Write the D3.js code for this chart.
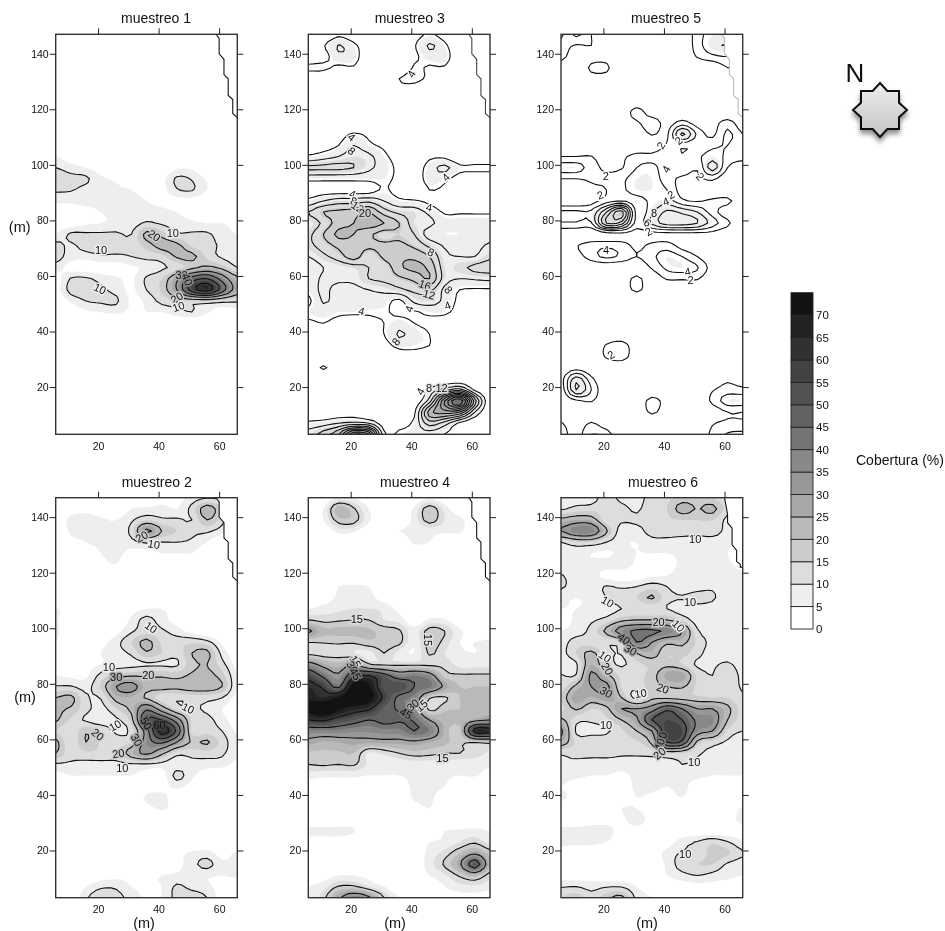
<!DOCTYPE html>
<html><head><meta charset="utf-8">
<script src="https://cdn.jsdelivr.net/npm/d3@7"></script>
<style>html,body{margin:0;padding:0;background:#fff}svg{display:block;filter:blur(0.35px)}text{font-family:"Liberation Sans",Arial,sans-serif;fill:#111}text.cl{opacity:0.999}</style>
</head><body>
<svg id="c" width="945" height="931"></svg>
<script>
// Grid positions of the samples (m)
const gridX = [6,11,16,21,26,31,36,41,46,51,56,61,66];
const gridY = [147,143,139,135,131,127,123,119,115,111,107,103,99,95,91,87,83,79,75,71,67,63,59,55,51,47,43,39,35,31,27,23,19,15,11,7,3];
const _ = [0,0,0,0,0,0,0,0,0,0,0,0,0];

const muestreo1 = [_,_,_,_,_,_,_,_,_,_,_,
[5,2,0,0,0,0,0,0,0,0,0,0,0],
[10,7,5,2,0,0,0,0,4,4,0,0,0],
[14,12,11,6,4,0,0,3,11,9.5,4,0,0],
[11,10.5,8,6,6,5,3,3,9.5,10.5,5,0,0],
[6,6,7,7,6,6,5,4,3,3,0,0,0],
[2,2,3,5,6,6,6,6,5,3,1,0,0],
[2,2,4,5,6,7,11,9,7,6,5,5,3],
[5,11,11,11,11,10,22,18,11,11,11,7,5],
[12,9,13,14,12,12,17,23,22,14,12,9,7],
[13,7,7,9,9,10,12,13,21,22,14,9,7],
[7,3,2,2,2,4,6,9,12,18,22,18,10],
[2,10.5,11,8,6,4,11,15,28,45,50,36,22],
[3,12,13,11,8,4,10,16,30,55,65,45,25],
[0,6,10,11,11,4,6,12,14,14,14,12,11],
[0,1,4,5,6,4,5,5,8,10,6,2,3],
[0,0,0,0,0,0,3,0,0,0,0,0,0],
_,_,_,_,_,_,_,_,_,_,_,_];

const muestreo2 = [
[0,0,0,0,0,0,0,2,3,7,9.5,8,0],
[0,3,4,3,0,5,6,7,5,12,24,14,0],
[2,6,6,5.5,5,9,14,11,11,10,20,12,0],
[0,6,7,7,5.5,12,32,20,15,11,11,7,0],
[0,3,5,6,6.5,8,11,10,10,9,5,0,0],
[0,0,2,5,6.5,3,3,5,5,5,0,0,0],
[0,0,0,3,5,0,0,0,0,0,0,0,0],
_,_,_,
[5.5,2,0,0,0,3,5,5,3,0,0,0,0],
[5.5,2,0,0,0,6,12,7,3,0,0,0,0],
[6,1,0,0,3,9,13,11,7,3,0,0,0],
[5,0,0,3,8,15,22,14,13,14,12,4,0],
[0,0,0,5,8,11,19,15,12,20,22,8,2],
[2,2,3,5,7,8,9,9,9,18,20,12,3],
[5,4,4,12,17,19,19,19,18,21,22,17,5],
[10.5,10.5,8,16,30,34,23,23,22,24,24,20,5],
[20,22,11,10.5,23,24,19,12,11,12,12,10,3],
[21,19,12,8,15,22,38,25,13,11,9,5,2],
[21,14,9,6,9,17,50,50,35,14,12,7,2],
[15,11,19,15,9,12,35,65,48,13,13,10,4],
[22,11,20,14,13,15,35,42,30,19,21,13,6],
[20,12,14,14,14,24,32,22,12,12,13,11,6],
[9,9,8,8,8,9,9,8,7,8,7,7,3],
[3,5,5,5,5,5,3,2,12,6,2,0,0],
[0,0,0,0,0,0,2,3,6,3,0,0,0],
[0,0,0,0,0,0,6,6.5,2,0,0,0,0],
[0,0,0,0,0,0,3,5.5,3,0,0,0,0],
_,_,_,
[0,0,0,0,0,0,0,0,3,6,7,3,6],
[0,0,0,0,0,0,0,0,3,8,12,6,6],
[0,0,0,2,3,3,4,5,6,6,5.5,5,6],
[0,0,5,9,9,5,4,5,11,8,6,3,0],
[0,0,9,14,12,8,4,5,12,14,10,2,0]];

const muestreo3 = [
[0,0,3,1,0,0,0,2,4.5,2,0,0,0],
[0,3.5,8.2,5,1,0,0,3.5,8.5,5,0,0,0],
[0,2,7,6,0,0,0,3,6,6,0,0,0],
[5,5,3,3.5,0,0,0,4.5,3.5,3.5,0,0,0],
[0,0,0,0,0,0,4,5,3,0,0,0,0],
[0,0,0,0,0,0,2,2,0,0,0,0,0],
_,_,_,
[0,0,2,4.5,3,0,0,0,0,0,0,0,0],
[2,2,4,8,5,3,0,0,0,0,0,0,0],
[4.5,6,8,10,9,5,2,0,3,3,0,0,0],
[13,13,13,12,9,6,3,1,6,9,5,5,5],
[5,5,5,5,5,5,3,1,6,5,2,1,1],
[2,2,2,2,2,4.5,2,0,4,3,0,0,0],
[5,8,10,10,11,8,5,4.5,3,1,0,0,0],
[12,16,17,18,20,14,11,10,7,3.5,3.5,3.5,3.5],
[9,13,18,20,22,20,16,10,9,6,6,6,6],
[11,16,21,20,17,14,15,12,6,5,5,6,7],
[11,14,17,18,17,17,17,15,11,7.5,7,7,8.5],
[8,11,14,18,13,17,19,19,16,9,8,8,11],
[5,8,9,10,12,13,19,21,19,10,11,13,14],
[5,9,9,9,12,13,15,17,20,10,8,8.5,9],
[5,9,6,7,8,9,11,13,13,7,4,3.5,3.5],
[3,8.5,6,8,7,6,3,9,10,7,3,2,2],
[5,6,5,5,4.5,4.5,3,3.5,5,5,2,1,0],
[3,4,2,1,3,4,6,4,3,1,0,0,0],
[0,0,0,0,1,4,8.5,6,4,0,0,0,0],
[0,0,0,0,0,2,5.5,5,4,1,0,0,0],
[0,0,0,0,0,0,1,2,1,0,0,0,0],
[1,4.5,1,0,0,0,0,0,0,0,0,0,0],
_,
[0,0,0,0,0,0,0,0,5,10,14,3,0],
[0,0,0,0,0,0,0,1,10,32,44,18,0],
[0,0,1,2,0,0,0,3,22,26,24,8,0],
[5,6,8,9,8,1.5,2,5,14,10,3,0,0],
[10,14,20,36,32,5,5,6,6,4,2,0,0]];

const muestreo4 = [
[0,0,6,5,0,0,0,0,4,0,0,0,0],
[0,5,24,16,5,0,0,6,19,8,0,0,0],
[0,5,18,18,6,0,0,7,18,10,7,0,0],
[0,0,7,6,0,0,5,6,7,6,6,0,0],
[0,0,0,0,0,0,0,6,5,0,0,0,0],
_,_,_,
[0,0,5,6,5,0,0,0,0,0,0,0,0],
[0,2,6,8,7,2,0,0,0,0,0,0,0],
[5,7,9,10,10,9,3,0,0,0,0,0,0],
[15,13,14,15,15,10,8,0,6,6,0,0,5],
[32,22,22,22,21,18,16,7,18,15,6,2,2],
[15.2,15.5,16,16,19,18,17,6,18,13,5,5,6],
[13,12,12,10,8,15,8,5,16,10,6,5,6],
[35,26,22,30,16,13,13,13,13,13,8,8,8],
[55,42,32,55,60,50,38,40,35,18,16,16,16],
[65,58,42,78,72,52,55,45,42,28,20,20,20],
[68,65,72,80,75,58,42,38,16,14,20,22,22],
[75,80,72,66,62,48,44,36,13,19,20,22,24],
[60,62,55,50,45,48,46,44,30,23,22,26,30],
[38,38,38,36,36,38,38,45,40,24,18,65,65],
[27,24,25,27,26,27,27,28,25,22,16,15.5,17],
[19,19,19,20,9,11,15,18,17,15,15,13,9],
[15,16,15,16,9,6,6,7,7,7,6,6,6],
[7,6,6,6,5,5,5,6,6,5.5,5,5.5,3],
[2,2,2,2,0,0,2,6,6,5,2,0,0],
[0,0,0,0,0,0,0,6,6,2,0,0,0],
[0,0,0,0,0,0,0,2,5,0,0,0,0],
[2,2,2,2,0,0,0,0,0,0,0,0,0],
[6,6,6,5.5,0,0,0,0,0,5,6,7,5],
[3,3,3,1,0,0,0,0,5,6,10,14,8],
[0,0,0,0,0,0,0,0,7,12,20,28,18],
[0,0,0,0,0,0,0,0,8,16,28,52,22],
[0,2,5,5,3,0,0,0,5,9,16,22,12],
[5,8,15.5,16,10,5,0,0,0,5,8,9,7],
[6,13,28,38,32,15,5,0,0,2,3,3,2]];

const muestreo5 = [
[1.5,4.5,2,0,0,0,0,0,0,3,5,5,5],
[3,1.8,2,0,0,0,0,0,0,3,5.5,6,5],
[3,0,1,1,0,0,0,0,0,2.2,3.5,4,3],
[0,0,2.4,2.4,0,0,0,0,0,0,0,2,2],
[0,0,1,1,0,0,0,0,0,0,0,0,0],
_,_,
[0,0,0,0,0,3,0.5,0,0,0,0,0,0],
[0,0,0,0,0.5,1.5,3.5,1,3,1,1,3,0.5],
[0,0,0,0,0,0,2.2,1.5,8.5,3.5,1.5,4.5,2],
[0,0,0,0,0,0,0,2.3,2.5,2.2,3.5,4,2.5],
[2,2,2.1,0.5,1.5,2.8,3,3.5,2.2,3.5,5,3.5,3],
[5,5,3,1.5,1.8,4,4.5,3,3.5,2.2,7,2,0],
[2,2,2.3,2.5,3.5,5,5,3,1.5,1.5,2.5,0,0],
[0,0,1.5,2,3.5,5,5,4,1,0,0,0,0],
[0,0,1,3,4,3,4.5,5,2.5,1.8,2.5,2.5,0.5],
[4.5,4.5,4.5,10,15,3,5.5,8.5,7.5,6,3,0.5,0],
[3.8,3.8,3.8,12,11,3,6.5,9,9,8,5,2.5,0],
[0,0,0,0.5,1,1,1,1,1,1,1,0,0],
[0,1.8,3,3.5,3,1.5,2.5,3,1,0,0,0,0],
[0,1,3,4.5,3.5,2,3.5,5,4,2,0,0,0],
[0,0,0,0,0,0.5,2.2,4.5,5,4.2,1,0,0],
[0,0,0,0,0.5,2.5,0.5,2.2,2.2,2.2,0,0,0],
[0,0,0,0,0.5,2.4,0.5,0,0,0,0,0,0],
_,_,_,_,
[0,0,0,2.2,3,0.5,0,0,0,0,0,0,0],
[0,0,0,2.3,3,0.5,0,0,0,0,0,0,0],
[0,1,0,0,0,0,0,0,0,0,0,0,0],
[1,7,2.5,0,0,0,0,0,0,0,0,1.5,0],
[0.5,8,4,0,0,0,0,0,0,0,1.8,3,2.8],
[0,1.5,2.2,0,0,0,2.8,1,0,0,2.5,5,5],
[0,0,0,0,0,0,2.4,0.5,0,0,0.5,2,2],
[2.2,0.5,2.2,0.5,0,0,0,0,0,0,1.8,2.4,2.4],
[3,1,4,3,0,0,0,0,0,0.5,2.5,4.2,4.5]];

const muestreo6 = [
[5,7,7,13,8,7,13,14,17,17,15,9,0],
[9,12,13,14,12,9,14,15,23,19.5,22,12,0],
[22,25,24,12,11,11,11,14,15,15,15,8,0],
[30,38,38,21,7,8,12,12,12,11.5,12,8,0],
[10,14,14,10,6,5,8,8.5,8,8,8,7,0],
[7,7,5,4,6,5,5,5,6,6,6,5,0],
[6,7,7,7,8,4,3,3,6,6,7,6,3],
[10.5,7,7,3,2,2,4,5,7,7,7,7,6],
[11,7,7,10.5,9,10,13,10,7,8,9,7,6],
[6,5,6,10,14,15,21,12,10.5,12,11,6,6],
[5,5,6,7,10,11,11,10,7,8,7,6,6],
[3,6,9,12,18,20,20,20,14,7,6,6,6],
[5,7,12,22,35,42,42,38,30,11,7,7,7],
[7,13,12,11,15,40,30,22,22,14,8,7,7],
[8,15,22,12,10.5,20,24,15,17,12,7,7,7],
[6,9,25,14,9,14,16,18,15,9,9,11,7],
[10.5,10.5,32,22,14,14,17,27,28,14,10,15,8],
[12,22,30,33,14,12,18,20,21,14,12,14,9],
[16,28,24,28,20,8,18,18,17,16,15,15,11],
[13,21,15,18,30,30,35,48,40,30,30,22,13],
[22,12,11,14,20,28,50,55,50,38,36,20,13],
[32,9,8,9,14,20,30,58,55,35,30,14,10],
[25,14,14,14,14,14,22,50,48,18,13,9,6],
[10.5,12,12,12,11,11,12,15,14,11,8,6,5],
[10,8,7,7,7,7,7,8,10,9,7,6,5],
[7,6,5,5,4,6,6,6,6,6,5,5,5],
[5,3,2,1,2,6,6,5,6,3,2,1,1],
[6,3,1,1,3,5,4,3,5,2,1,1,1],
[2,1,1,2,5,5,3,1,1,1,1,1,6],
[1,1,2,3,4,7,3,2,1,1,1,2,7],
[7,7,8,7,3,3,2,1,1,1,1,1,2],
[6,6,6,5,2,1,1,2,8,10.5,14,10.5,6],
[3,2,2,1,1,1,1,7,10.5,10.5,17,16,10.5],
[0,0,0,0,0,0,1,6,13,15,15,9,7],
[2,2,2,1,1,1,1,5,8,10,8,6,5],
[9.5,10,8,9.5,9.5,5,2,1,2,3,3,3,3],
[15,18,12,18,22,8,5,1,0,0,0,0,0]];

const panelNames = ["muestreo 1","muestreo 2","muestreo 3","muestreo 4","muestreo 5","muestreo 6"];
const panelGrids = [muestreo1,muestreo2,muestreo3,muestreo4,muestreo5,muestreo6];
const lineLevels = [
 [10,20,30,40,50,60],[10,20,30,40,50,60,70],[4,8,12,16,20,24,28,32,36,40,44,48],
 [15,30,45,60,75],[2,4,6,8,10,12,14],[10,20,30,40,50,60]];

const fillLevels = [5,10,15,20,25,30,35,40,45,50,55,60,65,70];
const bandColors = ["#ffffff","#eeeeee","#dddddd","#cccccc","#b9b9b9","#a8a8a8","#989898","#888888","#747474","#626262","#525252","#424242","#313131","#222222","#131313"];
const legendTicks = [0,5,10,15,20,25,30,35,40,45,50,55,60,65,70];
const axisTicksX = [20,40,60];
const axisTicksY = [20,40,60,80,100,120,140];

// Eastern edge of the surveyed area
const edgeX = [59,60,60,61.6,61.6,63,63,64.5,64.5,66,66];
const edgeY = [147,145.5,140,138,132.5,131,125,123.5,118.5,117,147];
const edgeX6 = [60,61,61,62.5,62.5,64,64,65.2,65.2,66,66];
const edgeY6 = [147,141,138,136,130,128,124,123,122,122,147];

// Contour labels: text, x, y, rotation
const labels1 = [[10,44.7,75.4,0],[20,38.6,74.6,35],[10,21,69.4,0],[10,20.6,55.4,25],[20,46,52.2,-30],[10,46.5,49,-20],[30,47.6,60.4,0],[40,49.5,58.8,70]];
const labels2 = [[20,34.4,133,-30],[10,38.5,130.3,10],[10,37.5,100.4,35],[10,23.6,86,0],[30,26,82.6,0],[20,36.6,83.2,0],[10,49.8,71.2,25],[10,25.6,65,-30],[20,19.9,61.8,40],[50,36,65.8,60],[60,40.3,65.2,0],[30,32.8,59.8,60],[20,26.7,55,-10],[10,28,49.6,0]];
const labels3 = [[4,20.3,110,40],[8,20.3,105,40],[4,40,132.8,-60],[4,51.4,95.5,-45],[4,20.6,89.5,20],[8,21,87,20],[12,22.3,84.8,35],[20,24.7,82.6,0],[4,45.9,84.7,10],[8,46.5,68.6,25],[16,44.5,56.8,20],[12,45.9,53.4,15],[8,52.3,55,50],[4,52,49.4,-20],[4,39.3,48.2,-70],[4,23.6,47.4,15],[8,34.9,36.4,-50],[4,43,18.5,-60],[8,45.9,19.8,0],[12,50,19.6,0]];
const labels4 = [[15,22,103.3,0],[15,45.6,95.8,90],[15,21.6,88,60],[30,20.6,86,60],[45,21.6,83.5,60],[15,43.4,72.2,-40],[30,40.5,72.4,-40],[45,38.3,69.4,30],[15,50.3,53.2,0]];
const labels5 = [[2,20.8,95.8,0],[2,19,89.2,-20],[2,39,107,-60],[2,44.8,108.8,-40],[2,52,95.8,50],[4,40.7,98.5,-60],[2,42.3,89.2,-30],[4,40.6,86.8,-20],[8,36.7,82.6,0],[6,34.6,79.2,40],[2,34.9,76,-30],[4,20.9,69.4,0],[4,47.8,61.6,-10],[2,48.8,58.6,0],[2,22.5,31.6,-30]];
const labels6 = [[10,50.3,132.2,0],[10,21.4,109.6,30],[10,48.6,109.6,0],[20,38.2,102.4,0],[10,44.8,100.9,45],[40,26.8,96.2,35],[30,29,92.2,30],[10,20.5,89.8,35],[20,21.3,85.4,60],[30,20.9,77,30],[10,32.3,76.6,-10],[20,39.6,78.4,20],[10,20.9,65.2,0],[50,39.3,60.4,-70],[40,38.5,58.2,-70],[20,38.5,55,-40],[10,50,51.8,0],[10,47,18.8,0]];
const panelLabels = [labels1,labels2,labels3,labels4,labels5,labels6];

const panelBoxes = [[55.7,237.3,34.3,434.3],[55.7,237.3,497.7,897.7],[308.3,490,34.3,434.3],[308.3,490,497.7,897.7],[561,742.7,34.3,434.3],[561,742.7,497.7,897.7]];
const titleCentres = [156,156.7,409.7,415,666,663];
const edgeStrokes = ["#111","#111","#444","#111","#bbb","#111"];

const svg = d3.select("#c");
const colorOf = v => bandColors[Math.min(bandColors.length-1, d3.bisectRight(fillLevels, v))];
const defs = svg.append("defs");

// Rounded contouring surface through the read values (Catmull-Rom between samples)
const K = 3;
function cr(a,b,c,d,t){return 0.5*(2*b+(c-a)*t+(2*a-5*b+4*c-d)*t*t+(3*b-a-3*c+d)*t*t*t);}
function refine(grid){
  const R=grid.length,C=grid[0].length,W=(C-1)*K+1,H=(R-1)*K+1;
  const at=(r,c)=>grid[Math.max(0,Math.min(R-1,r))][Math.max(0,Math.min(C-1,c))];
  const out=new Float64Array(W*H);
  for(let j=0;j<H;j++){
    const r=Math.floor(j/K),tr=j/K-r;
    for(let i=0;i<W;i++){
      const c=Math.floor(i/K),tc=i/K-c;
      const col=[-1,0,1,2].map(dr=>cr(at(r+dr,c-1),at(r+dr,c),at(r+dr,c+1),at(r+dr,c+2),tc));
      out[j*W+i]=Math.max(0,cr(col[0],col[1],col[2],col[3],tr));
    }
  }
  return {values:Array.from(out),W,H};
}

panelGrids.forEach((grid,p)=>{
  const [x0,x1,y0,y1] = panelBoxes[p];
  const x = d3.scaleLinear().domain([6,66]).range([x0,x1]);
  const y = d3.scaleLinear().domain([3,147]).range([y1,y0]);
  const {values,W,H} = refine(grid);
  const contourer = d3.contours().size([W,H]).smooth(true);
  const path = d3.geoPath(d3.geoTransform({point(i,j){
    this.stream.point(x(gridX[0]+(i-0.5)*5/K), y(gridY[0]-(j-0.5)*4/K));
  }}));
  defs.append("clipPath").attr("id","clip"+p).append("rect")
    .attr("x",x0).attr("y",y0).attr("width",x1-x0).attr("height",y1-y0);
  const g = svg.append("g");
  const plot = g.append("g").attr("clip-path",`url(#clip${p})`);
  plot.append("rect").attr("x",x0).attr("y",y0).attr("width",x1-x0).attr("height",y1-y0).attr("fill","#fff");
  plot.selectAll("path.band").data(fillLevels).join("path").attr("class","band")
    .attr("d",t=>path(contourer.contour(values,t)))
    .attr("fill",t=>colorOf(t));
  plot.selectAll("path.iso").data(lineLevels[p]).join("path").attr("class","iso")
    .attr("d",t=>path(contourer.contour(values,t)))
    .attr("fill","none").attr("stroke","#111").attr("stroke-width",1.1).attr("stroke-linejoin","round");

  // Mask beyond the survey edge
  const ex = p===5?edgeX6:edgeX, ey = p===5?edgeY6:edgeY;
  const pts = ex.map((v,i)=>[x(v),y(ey[i])]);
  plot.append("path").attr("d",d3.line()(pts)+"Z").attr("fill","#fff");
  plot.append("path").attr("d",d3.line()(pts.slice(0,10))).attr("fill","none")
    .attr("stroke",edgeStrokes[p]).attr("stroke-width",1.1);

  // Contour labels
  g.selectAll("text.cl").data(panelLabels[p]).join("text").attr("class","cl")
    .attr("transform",d=>`translate(${x(d[1])},${y(d[2])}) rotate(${d[3]})`)
    .attr("text-anchor","middle").attr("dy","0.36em").attr("font-size",11)
    .attr("stroke",d=>colorOf(d[0]-0.1)).attr("stroke-width",3).attr("paint-order","stroke")
    .text(d=>d[0]);

  g.append("rect").attr("x",x0).attr("y",y0).attr("width",x1-x0).attr("height",y1-y0)
    .attr("fill","none").attr("stroke","#333").attr("stroke-width",1.4);

  const style = a=>{a.select(".domain").remove();a.selectAll("line").attr("stroke","#222");a.selectAll("text").attr("font-size",10.5).attr("fill","#222");};
  g.append("g").attr("transform",`translate(${x0},0)`).call(d3.axisLeft(y).tickValues(axisTicksY).tickSize(6).tickPadding(1).tickFormat(d3.format("d"))).call(style);
  g.append("g").attr("transform",`translate(${x1},0)`).call(d3.axisRight(y).tickValues(axisTicksY).tickSize(6).tickFormat("")).call(style);
  g.append("g").attr("transform",`translate(0,${y0})`).call(d3.axisTop(x).tickValues(axisTicksX).tickSize(6).tickFormat("")).call(style);
  g.append("g").attr("transform",`translate(0,${y1})`).call(d3.axisBottom(x).tickValues(axisTicksX).tickSize(0).tickPadding(8).tickFormat(d3.format("d"))).call(style);

  g.append("text").attr("x",titleCentres[p]).attr("y",y0-11).attr("text-anchor","middle").attr("font-size",14).text(panelNames[p]);
});

// Axis titles
const axisTitles = [["(m)",19.7,232],["(m)",25,702],["(m)",144,928],["(m)",395,928],["(m)",647,928]];
svg.selectAll("text.at").data(axisTitles).join("text").attr("class","at")
  .attr("x",d=>d[1]).attr("y",d=>d[2]).attr("text-anchor","middle").attr("font-size",14.5).text(d=>d[0]);

// Colour legend
const ly = d3.scaleLinear().domain([0,75]).range([629,292.7]);
const lg = svg.append("g");
const bandEdges = [0,...fillLevels,75];
lg.selectAll("rect.k").data(bandColors).join("rect").attr("class","k")
  .attr("x",791).attr("width",22).attr("y",(d,i)=>ly(bandEdges[i+1])).attr("height",(d,i)=>ly(bandEdges[i])-ly(bandEdges[i+1]))
  .attr("fill",d=>d).attr("stroke","#222").attr("stroke-width",0.9);
lg.append("g").attr("transform","translate(813,0)")
  .call(d3.axisRight(ly).tickValues(legendTicks).tickSize(0).tickPadding(3))
  .call(a=>{a.select(".domain").remove();a.selectAll("text").attr("font-size",11.5).attr("fill","#222");});
svg.append("text").attr("x",856).attr("y",464.5).attr("font-size",14).text("Cobertura (%)");

// North marker
const grad = defs.append("linearGradient").attr("id","star").attr("x1",0).attr("x2",0).attr("y1",0).attr("y2",1);
grad.append("stop").attr("offset",0).attr("stop-color","#eeeeee");
grad.append("stop").attr("offset",1).attr("stop-color","#c4c4c4");
const blur = defs.append("filter").attr("id","shade").attr("x","-30%").attr("y","-30%").attr("width","160%").attr("height","170%");
blur.append("feDropShadow").attr("dx",0).attr("dy",4).attr("stdDeviation",2.5).attr("flood-color","#000").attr("flood-opacity",0.45);
const starOuter = 27, starCorner = 19, starInner = 7.3;
const starPts = [[0,-starOuter],[starInner,-starCorner],[starCorner,-starCorner],[starCorner,-starInner],[starOuter,0],[starCorner,starInner],[starCorner,starCorner],[starInner,starCorner],[0,starOuter],[-starInner,starCorner],[-starCorner,starCorner],[-starCorner,starInner],[-starOuter,0],[-starCorner,-starInner],[-starCorner,-starCorner],[-starInner,-starCorner]];
svg.append("path").attr("transform","translate(880,110)").attr("d",d3.line()(starPts)+"Z")
  .attr("fill","url(#star)").attr("stroke","#111").attr("stroke-width",2).attr("filter","url(#shade)");
svg.append("text").attr("x",845.5).attr("y",82).attr("font-size",26).text("N");
</script>
</body></html>
